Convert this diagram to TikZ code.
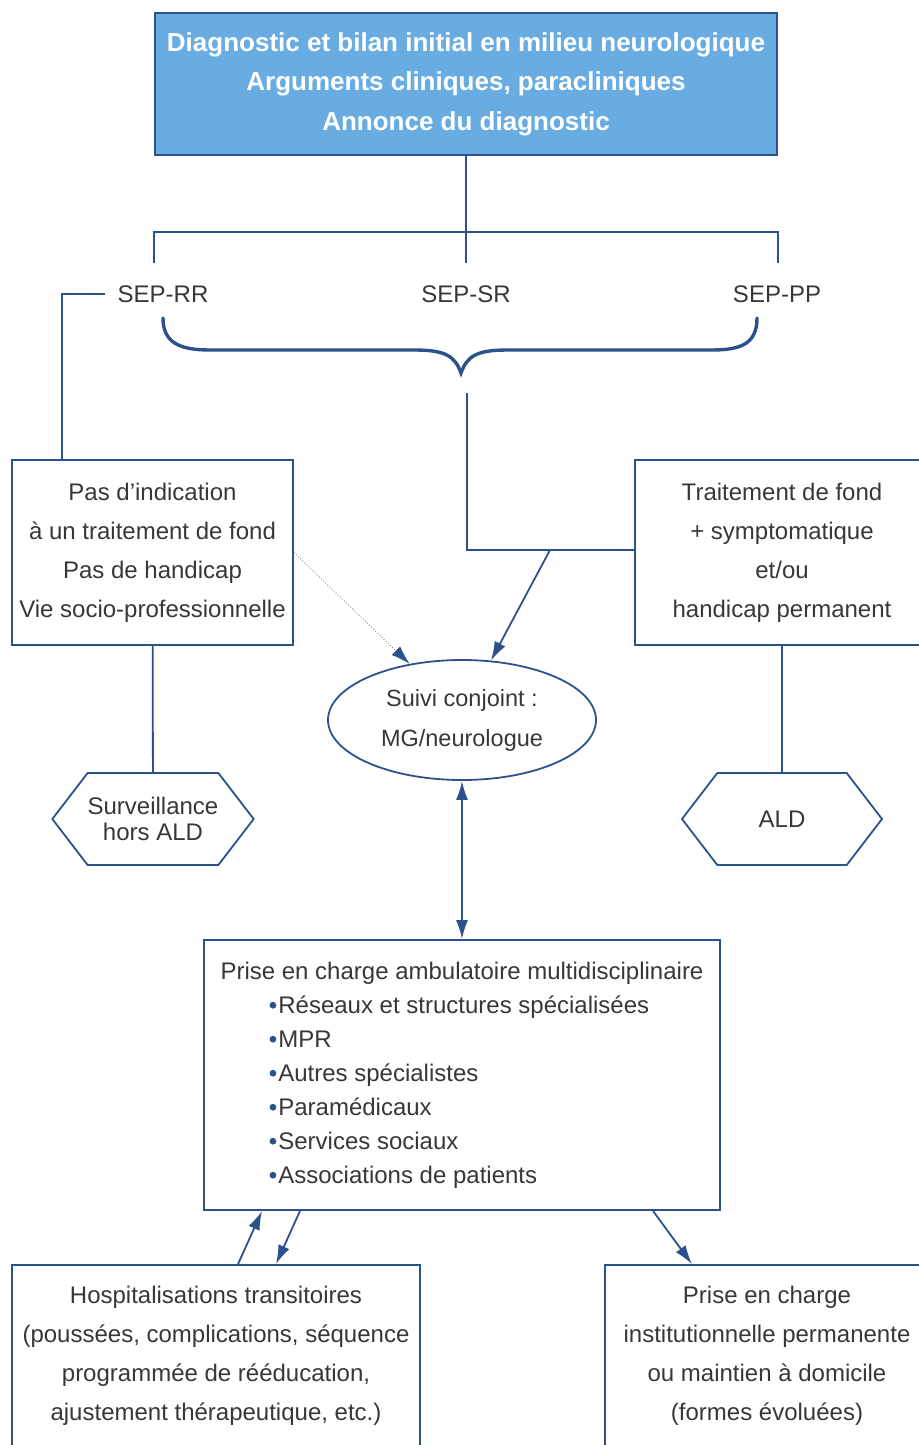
\documentclass[tikz,border=0pt]{standalone}
\usepackage{fontspec}
\setmainfont{Liberation Sans}
\usepackage{xcolor}
\usetikzlibrary{shapes.geometric, shapes.symbols, arrows.meta}
\usetikzlibrary{positioning}
\definecolor{lineblue}{RGB}{44,82,140}
\definecolor{headblue}{RGB}{104,172,226}
\definecolor{txtgray}{RGB}{55,55,55}
\tikzstyle{box} = [rectangle, draw=lineblue, line width=1.8pt, text=txtgray, align=center, inner sep=0pt, font=\fontsize{24}{39}\selectfont]
\tikzstyle{headbox} = [box, fill=headblue, text=white, font=\fontsize{26}{39.5}\selectfont\bfseries]
\tikzstyle{lbl} = [text=txtgray, inner xsep=12pt, inner ysep=22pt, font=\fontsize{24}{26}\selectfont]
\tikzstyle{hexa} = [signal, signal to=west and east, signal pointer angle=105, draw=lineblue, line width=1.8pt, minimum width=200pt, minimum height=92pt, inner sep=0pt, text=txtgray, align=center, font=\fontsize{24}{26}\selectfont]
\tikzstyle{link} = [draw=lineblue, line width=1.8pt]
\tikzstyle{arr} = [link, -{Latex[length=19pt, width=12pt]}]
\newcommand{\itm}{\hspace*{49pt}\tikz[baseline=-8pt]\fill[lineblue] (0,0) circle[radius=3.4pt];\hspace{2pt}}

\begin{document}
\begin{tikzpicture}[x=1pt, y=-1pt]
  \useasboundingbox (0,0) rectangle (918,1445);

  \node[headbox, minimum width=622pt, minimum height=142pt] (diag) at (466,84) {Diagnostic et bilan initial en milieu neurologique\\Arguments cliniques, paracliniques\\Annonce du diagnostic};

  \node[lbl] (rr) at (163,294) {SEP-RR};
  \node[lbl] (sr) at (466,294) {SEP-SR};
  \node[lbl] (pp) at (777,294) {SEP-PP};
  \coordinate (fork) at (466,232);

  \node[box, minimum width=281pt, minimum height=185pt] (nofond) at (152.5,552.5) {Pas d’indication\\à un traitement de fond\\Pas de handicap\\Vie socio-professionnelle};
  \node[box, minimum width=294pt, minimum height=185pt] (fond) at (782,552.5) {Traitement de fond\\+ symptomatique\\et/ou\\handicap permanent};

  \node[ellipse, draw=lineblue, line width=1.8pt, minimum width=268pt, minimum height=120pt, inner sep=0pt, text=txtgray, align=center, font=\fontsize{23.5}{40}\selectfont] (suivi) at (462,720) {Suivi conjoint :\\MG/neurologue};

  \node[hexa] (horsald) at (153,819) {Surveillance\\hors ALD};
  \node[hexa] (ald) at (782,819) {ALD};

  \node[box, minimum width=516pt, minimum height=270pt, align=left, font=\fontsize{24}{34}\selectfont] (prise) at (462,1075) {Prise en charge ambulatoire multidisciplinaire\\\itm Réseaux et structures spécialisées\\\itm MPR\\\itm Autres spécialistes\\\itm Paramédicaux\\\itm Services sociaux\\\itm Associations de patients};

  \node[box, minimum width=408pt, minimum height=182pt] (hosp) at (216,1356) {Hospitalisations transitoires\\(poussées, complications, séquence\\programmée de rééducation,\\ajustement thérapeutique, etc.)};
  \node[box, minimum width=324pt, minimum height=182pt] (inst) at (767,1356) {Prise en charge\\institutionnelle permanente\\ou maintien à domicile\\(formes évoluées)};

  % accolade sous les trois formes
  \draw[lineblue, line width=3.4pt, line cap=round] (163,318) .. controls (163,343) and (180,350) .. (210,350) -- (415,350) .. controls (445,350) and (455,356) .. (461,373) .. controls (467,356) and (477,350) .. (507,350) -- (712,350) .. controls (742,350) and (757,343) .. (757,318);
  \coordinate (bracetail) at (467,393);
  \coordinate (merge) at (467,550);

  \path[link] (diag) -- (sr);
  \path[link] (diag.south west |- rr.north) |- (fork) -| (diag.south east |- pp.north);
  \path[link] (rr.west) -| ([xshift=51pt]nofond.north west);
  \path[link] (bracetail) -- (merge) -- (merge -| fond.west);
  \path[link] (nofond) -- (horsald);
  \path[link] (fond) -- (ald);

  \draw[draw=gray, line width=0.9pt, dotted, -{Latex[length=19pt, width=12pt, color=lineblue, fill=lineblue]}] (nofond.east) -- (suivi.133);
  \path[arr] ([xshift=83pt]merge) -- (suivi.64);
  \path[link, {Latex[length=19pt, width=12pt]}-{Latex[length=19pt, width=12pt]}] (suivi) -- (prise);
  \path[arr] ([xshift=22pt]hosp.north) -- ([xshift=-200pt]prise.south);
  \path[arr] ([xshift=-162pt]prise.south) -- ([xshift=60pt]hosp.north);
  \path[arr] ([xshift=191pt]prise.south) -- ([xshift=-75pt]inst.north);
\end{tikzpicture}
\end{document}
